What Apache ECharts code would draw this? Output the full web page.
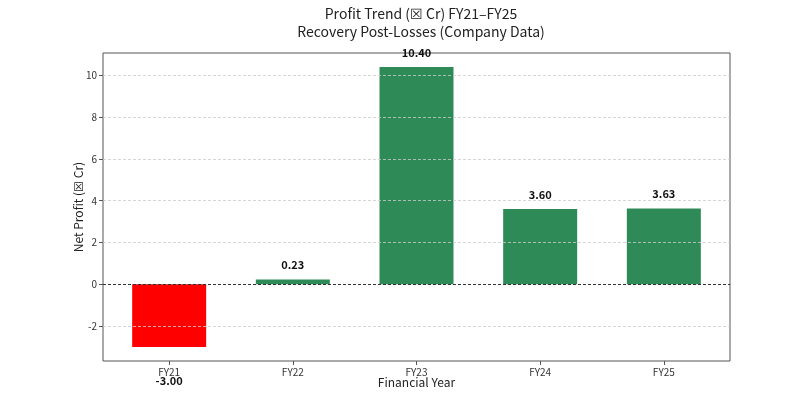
<!DOCTYPE html>
<html>
<head>
<meta charset="utf-8">
<script src="https://cdn.jsdelivr.net/npm/echarts@6/dist/echarts.min.js"></script>
<style>
  html, body { margin: 0; padding: 0; background: #fff; }
  #chart { width: 800px; height: 400px; }
</style>
</head>
<body>
<div id="chart"></div>
<script>
const years = ['FY21', 'FY22', 'FY23', 'FY24', 'FY25']
const profit = [-3.0, 0.23, 10.4, 3.6, 3.63]
const yTicks = [-2, 0, 2, 4, 6, 8, 10]
const gridTicks = [-2, 2, 4, 6, 8, 10]
const xTicks = [0, 1, 2, 3, 4]

const font = '"Noto Sans CJK SC", "Noto Sans", sans-serif'
const chart = echarts.init(document.getElementById('chart'))

// negative bar gets its label underneath, the rest on top
const barData = profit.map((v, i) => ({
  value: [i, v],
  itemStyle: { color: v < 0 ? '#ff0000' : '#2e8b57' },
  label: v < 0 ? { position: 'bottom', distance: 28 } : { position: 'top', distance: 9 }
}))

chart.setOption({
  animation: false,
  textStyle: { fontFamily: font },
  title: {
    text: 'Profit Trend (☒ Cr) FY21–FY25\nRecovery Post-Losses (Company Data)',
    left: 416,
    textAlign: 'center',
    top: 0,
    textStyle: { fontSize: 14, fontWeight: 'normal', color: '#222', lineHeight: 18, fontFamily: font }
  },
  grid: {
    left: 103, right: 70, top: 53, bottom: 39,
    show: true, borderColor: '#555', borderWidth: 1
  },
  xAxis: {
    type: 'value',
    min: -0.535,
    max: 4.535,
    name: 'Financial Year',
    nameLocation: 'middle',
    nameGap: 15,
    nameMoveOverlap: false,
    nameTextStyle: { fontSize: 12, color: '#222' },
    axisLine: { show: false, onZero: false },
    axisTick: { show: true, length: 4, customValues: xTicks, lineStyle: { color: '#555' } },
    axisLabel: { fontSize: 10, color: '#333', margin: 6, customValues: xTicks, formatter: v => years[v] },
    splitLine: { show: false }
  },
  yAxis: {
    type: 'value',
    min: -3.67,
    max: 11.07,
    name: 'Net Profit (☒ Cr)',
    nameLocation: 'middle',
    nameGap: 19,
    nameMoveOverlap: false,
    nameTextStyle: { fontSize: 12, color: '#222' },
    axisLine: { show: false, onZero: false },
    axisTick: { show: true, length: 4, customValues: yTicks, lineStyle: { color: '#555' } },
    axisLabel: { fontSize: 10, color: '#333', margin: 6, customValues: yTicks },
    splitLine: { show: false }
  },
  series: [
    {
      type: 'bar',
      data: barData,
      barWidth: 74,
      label: {
        show: true,
        fontSize: 11,
        fontWeight: 'bold',
        color: '#111',
        formatter: p => p.value[1].toFixed(2)
      },
      markLine: {
        silent: true,
        symbol: 'none',
        label: { show: false },
        data: [
          ...gridTicks.map(t => ({ yAxis: t, lineStyle: { color: '#cccccc', type: [3, 2], width: 0.8 } })),
          { yAxis: 0, lineStyle: { color: '#333', type: [3, 2], width: 1 } }
        ]
      },
      z: 3
    }
  ]
})
</script>
</body>
</html>
